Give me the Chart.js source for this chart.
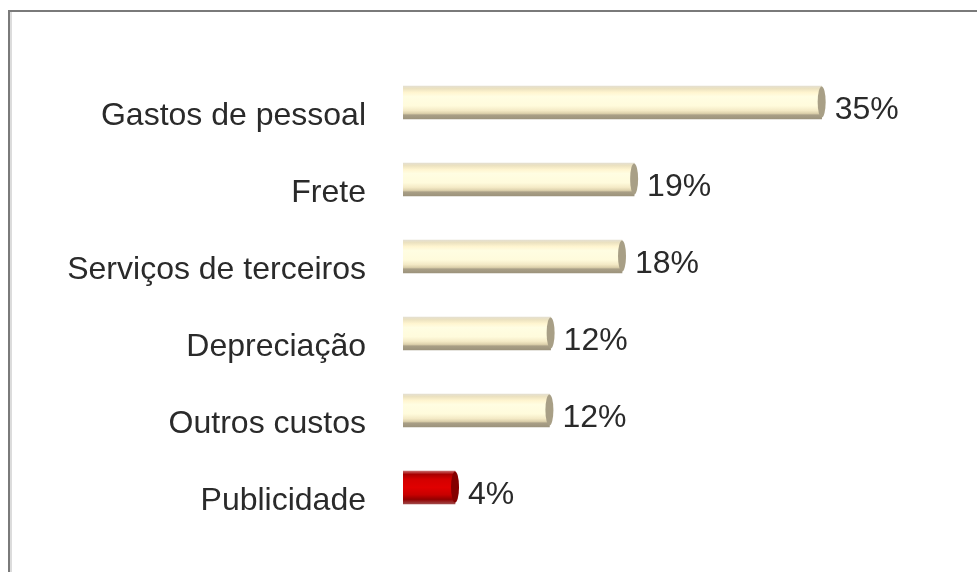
<!DOCTYPE html>
<html>
<head>
<meta charset="utf-8">
<script src="https://cdn.jsdelivr.net/npm/chart.js@4.4.0/dist/chart.umd.min.js"></script>
<style>
  html, body { margin: 0; padding: 0; background: #fff; }
</style>
</head>
<body>
<canvas id="chart1" width="977" height="572"></canvas>
<script>
// data
const categories = ['Gastos de pessoal', 'Frete', 'Serviços de terceiros', 'Depreciação', 'Outros custos', 'Publicidade'];
const shares = [34.6, 19.1, 18.1, 12.2, 12.1, 4.3];
const xMin = 0;
const xMax = 45;

const FONT = '"Liberation Sans", Arial, sans-serif';
const TEXT = '#2a2a2a';
const BAR_H = 33;

const cream = {
  stops: [[0, '#e4dfd0'], [0.08, '#ece2c0'], [0.2, '#fff5d0'], [0.32, '#fffde2'], [0.6, '#fffbdc'],
          [0.74, '#f4eac6'], [0.83, '#ddd1ac'], [0.88, '#a99f86'], [1, '#9c937c']],
  cap: '#a89f86'
};
const red = {
  stops: [[0, '#c86a6a'], [0.1, '#a80000'], [0.25, '#d40000'], [0.5, '#e00000'], [0.72, '#c80000'],
          [0.86, '#920000'], [1, '#a04848']],
  cap: '#840000'
};
const styleFor = i => (i === categories.length - 1 ? red : cream);

function barFill(ctx) {
  const chart = ctx.chart;
  const st = styleFor(ctx.dataIndex || 0);
  if (!chart.chartArea || ctx.dataIndex === undefined) return st.stops[4][1];
  const y = chart.scales.y.getPixelForValue(ctx.dataIndex);
  const g = chart.ctx.createLinearGradient(0, y - BAR_H / 2, 0, y + BAR_H / 2);
  st.stops.forEach(s => g.addColorStop(s[0], s[1]));
  return g;
}

const frame = {
  id: 'frame',
  beforeDraw(chart) {
    const c = chart.ctx;
    c.save();
    c.fillStyle = '#fff';
    c.fillRect(0, 0, chart.width, chart.height);
    c.fillStyle = '#dcdcdc';
    c.fillRect(10, 12, 2, chart.height);
    c.fillStyle = '#7a7a7a';
    c.fillRect(8, 10, chart.width, 2);
    c.fillRect(8, 10, 2, chart.height);
    c.restore();
  }
};

const ends = {
  id: 'ends',
  afterDatasetsDraw(chart) {
    const c = chart.ctx;
    const meta = chart.getDatasetMeta(0);
    meta.data.forEach((bar, i) => {
      const st = styleFor(i);
      c.save();
      c.beginPath();
      c.ellipse(bar.x, bar.y - 0.5, 4, BAR_H / 2 - 1, 0, 0, Math.PI * 2);
      c.fillStyle = st.cap;
      c.fill();
      c.font = '32px ' + FONT;
      c.fillStyle = TEXT;
      c.textAlign = 'left';
      c.textBaseline = 'middle';
      c.fillText(Math.round(shares[i]) + '%', bar.x + 13, bar.y + 8);
      c.restore();
    });
  }
};

const config1 = {
  type: 'bar',
  data: {
    labels: categories,
    datasets: [{
      data: shares,
      backgroundColor: barFill,
      barThickness: BAR_H,
      borderWidth: 0
    }]
  },
  options: {
    indexAxis: 'y',
    responsive: false,
    animation: false,
    layout: { padding: { top: 64, bottom: 46, left: 0, right: 29.5 } },
    plugins: {
      legend: { display: false },
      tooltip: { enabled: false }
    },
    scales: {
      x: {
        display: false,
        min: xMin,
        max: xMax
      },
      y: {
        grid: { display: false, drawTicks: false },
        border: { display: false },
        afterFit: axis => {
          axis.width = 403;
          axis.paddingTop = 0;
          axis.paddingBottom = 0;
        },
        ticks: {
          padding: 37,
          labelOffset: 14,
          color: TEXT,
          font: { family: FONT, size: 32 }
        }
      }
    }
  },
  plugins: [frame, ends]
};

const chart1 = new Chart(document.getElementById('chart1'), config1);
</script>
</body>
</html>
